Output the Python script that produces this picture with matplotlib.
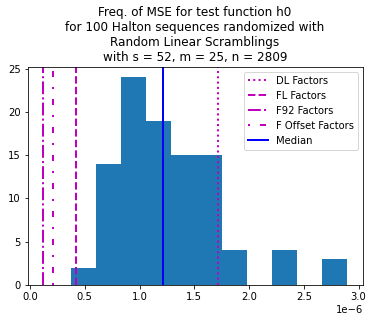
"""Histogram of MSE for randomized Halton sequences, with reference lines."""

import matplotlib
matplotlib.use("Agg")
import matplotlib.pyplot as plt
import numpy as np

# histogram bins (units of 1e-6)
bin_edges = np.array([0.372, 0.602, 0.831, 1.061, 1.291, 1.520, 1.750,
                      1.980, 2.210, 2.439, 2.669, 2.899]) * 1e-6
counts = [2, 14, 24, 19, 15, 15, 4, 0, 4, 0, 3]

# reference lines
dl_factors = 1.715e-6
fl_factors = 0.417e-6
f92_factors = 0.116e-6
f_offset_factors = 0.213e-6
median = 1.212e-6

title = ("Freq. of MSE for test function h0\n"
         "for 100 Halton sequences randomized with\n"
         "Random Linear Scramblings\n"
         "with s = 52, m = 25, n = 2809")

fig = plt.figure(figsize=(372 / 72, 322 / 72), dpi=72)
ax = fig.add_axes([0.074, 0.115, 0.901, 0.677])

ax.hist(bin_edges[:-1], bins=bin_edges, weights=counts, color="#1f77b4")
ax.axvline(dl_factors, color="m", ls=":", lw=2, label="DL Factors")
ax.axvline(fl_factors, color="m", ls="--", lw=2, label="FL Factors")
ax.axvline(f92_factors, color="m", ls="-.", lw=2, label="F92 Factors")
ax.axvline(f_offset_factors, color="m", ls=(0, (1, 5, 3, 5)), lw=2,
           label="F Offset Factors")
ax.axvline(median, color="b", lw=2, label="Median")

ax.set_title(title, fontsize=12)
ax.legend(loc="upper right", fontsize=10)

fig.savefig("out.png", dpi=72)
